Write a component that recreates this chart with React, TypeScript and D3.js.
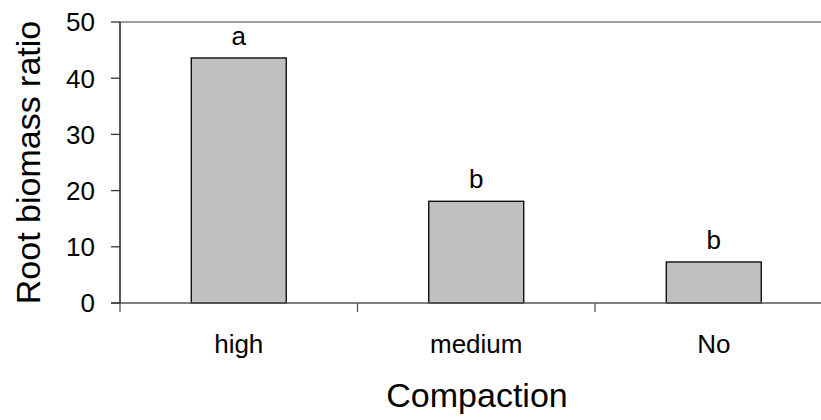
import React from "react";
import * as d3 from "d3";

const categories = ["high", "medium", "No"];
const values = [43.6, 18.1, 7.3];
const letters = ["a", "b", "b"];
const yTicks = [0, 10, 20, 30, 40, 50];

export default function App() {
  const W = 821, H = 420;
  const x0 = 120, x1 = 832.5, yTop = 22, yBot = 303;
  const x = d3.scaleBand<string>().domain(categories).range([x0, x1]).paddingInner(0.6).paddingOuter(0.3);
  const xb = d3.scaleBand<string>().domain(categories).range([x0, x1]);
  const y = d3.scaleLinear().domain([0, 50]).range([yBot, yTop]);
  const font = "Arial, 'Liberation Sans', sans-serif";
  return (
    <svg width={W} height={H} style={{ position: "absolute", left: 0, top: 0, background: "#fff" }} fontFamily={font}>
      <line x1={x0} x2={W} y1={y(50)} y2={y(50)} stroke="#808080" strokeWidth={1.5} />
      {categories.map((c, i) => (
        <g key={c}>
          <rect x={x(c)!} y={y(values[i])} width={x.bandwidth()} height={y(0) - y(values[i])} fill="#c0c0c0" stroke="#000" strokeWidth={1.3} />
          <text x={x(c)! + x.bandwidth() / 2} y={y(values[i]) - 13} textAnchor="middle" fontSize={26} fill="#000">{letters[i]}</text>
          <text x={xb(c)! + xb.bandwidth() / 2} y={353} textAnchor="middle" fontSize={26} fill="#000">{c}</text>
        </g>
      ))}
      <line x1={x0 - 9} x2={W} y1={yBot} y2={yBot} stroke="#555" strokeWidth={1.3} />
      {categories.map((c) => (
        <line key={c} x1={xb(c)!} x2={xb(c)!} y1={yBot} y2={yBot + 9} stroke="#555" strokeWidth={1.3} />
      ))}
      <line x1={x0} x2={x0} y1={yTop} y2={yBot} stroke="#000" strokeWidth={1.3} />
      {yTicks.map((t) => (
        <g key={t}>
          <line x1={x0 - 9} x2={x0} y1={y(t)} y2={y(t)} stroke="#333" strokeWidth={1.3} />
          <text x={95} y={y(t)} dy="0.36em" textAnchor="end" fontSize={26} fill="#000">{t}</text>
        </g>
      ))}
      <text transform={`translate(40,${(yTop + yBot) / 2}) rotate(-90)`} textAnchor="middle" fontSize={34} fill="#000">Root biomass ratio</text>
      <text x={477} y={407} textAnchor="middle" fontSize={34} fill="#000">Compaction</text>
    </svg>
  );
}
